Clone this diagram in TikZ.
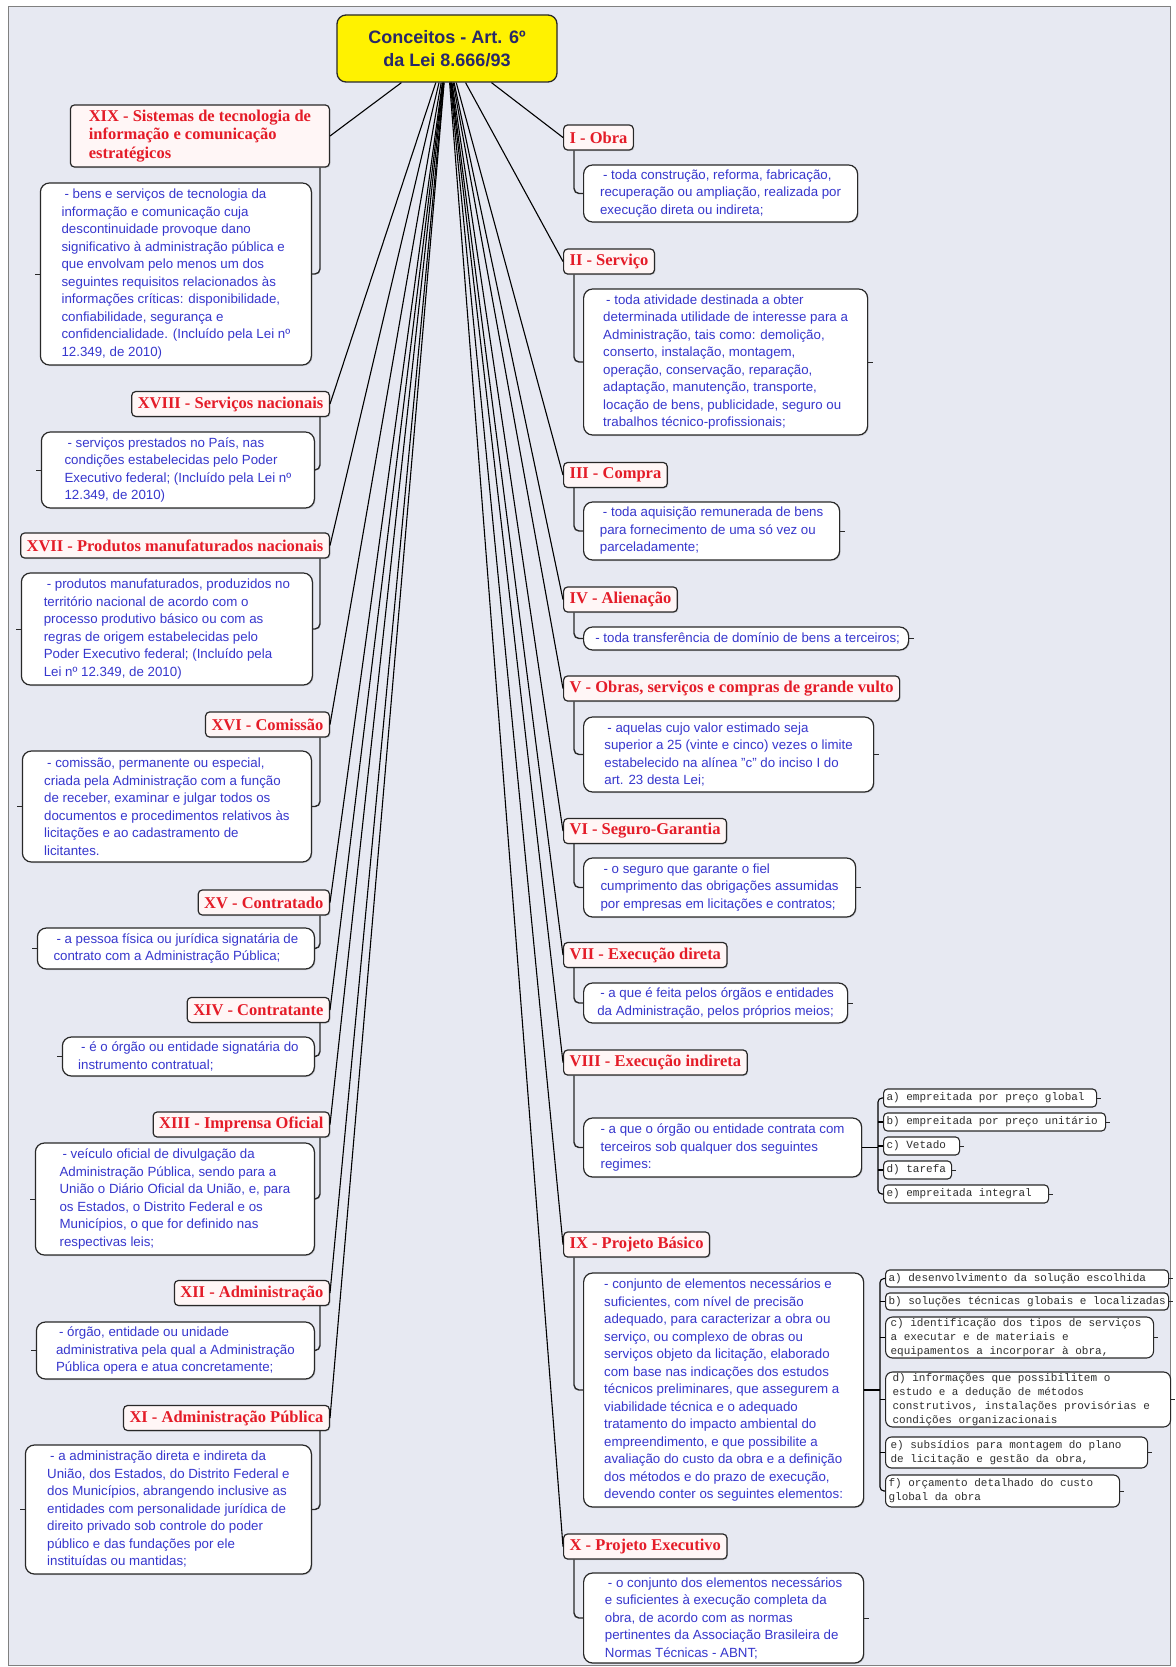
\documentclass[tikz,border=0pt]{standalone}
\usepackage{fontspec}
\setmainfont{Liberation Sans}
\newfontfamily\ttlfont{Liberation Serif}
\newfontfamily\subfnt{Liberation Mono}
\usetikzlibrary{calc,shadows}
\newcommand\oneline[1]{\mbox{\spaceskip=0pt\xspaceskip=0pt\relax #1}}
\definecolor{bg}{RGB}{231,233,242}
\definecolor{bodyblue}{RGB}{55,55,205}
\definecolor{ttlred}{RGB}{228,28,40}
\definecolor{ttlfill}{RGB}{255,246,246}
\definecolor{rootnavy}{RGB}{40,40,105}
\definecolor{subgray}{RGB}{45,45,45}
\definecolor{edge}{RGB}{40,40,40}
\begin{document}
\begin{tikzpicture}[x=1pt,y=-1pt,
  rootbox/.style={draw=edge, line width=1.3pt, rounded corners=9pt, fill=yellow, font=\bfseries\fontsize{18}{23}\selectfont, text=rootnavy, align=center, minimum width=220pt, minimum height=67pt},
  ttl/.style={draw=edge, line width=1.2pt, rounded corners=4pt, fill=ttlfill, font=\ttlfont\bfseries\fontsize{16.5}{18.3}\selectfont, text=ttlred, align=left, inner xsep=6pt, inner ysep=3pt, minimum height=25pt, drop shadow={shadow xshift=1pt, shadow yshift=-1pt, opacity=.3}},
  bodybox/.style={draw=edge, line width=1.2pt, rounded corners=9pt, fill=white, font=\fontsize{13.3}{17.5}\selectfont, text=bodyblue, align=left, inner xsep=8pt, inner ysep=2pt, drop shadow={shadow xshift=1pt, shadow yshift=-1pt, opacity=.3}},
  subbox/.style={draw=edge, line width=1.1pt, rounded corners=4pt, fill=white, font=\subfnt\fontsize{11}{13.8}\selectfont, text=subgray, align=left, inner xsep=3pt, inner ysep=1pt},
  link/.style={line width=1.1pt, draw=black},
  hook/.style={line width=1.4pt, draw=edge, rounded corners=5pt},
  stub/.style={line width=1pt, draw=edge},
]
\useasboundingbox (0,0) rectangle (1175,1667);
\fill[white] (0,0) rectangle (1175,1667);
\fill[bg] (8,7) rectangle (1170,1665);
\draw[gray, line width=1pt] (8,7) rectangle (1170,1665);

% root
\node[rootbox] (root) at (447,48.5) {Conceitos - Art. 6º\\da Lei 8.666/93};

% left titles
\node[ttl, anchor=east, minimum height=62pt, minimum width=259pt] (t19) at (330,136) {XIX - Sistemas de tecnologia de\\informação e comunicação\\estratégicos};
\node[ttl, anchor=east] (t18) at (330,404) {XVIII - Serviços nacionais};
\node[ttl, anchor=east] (t17) at (330,545.5) {XVII - Produtos manufaturados nacionais};
\node[ttl, anchor=east] (t16) at (330,724.5) {XVI - Comissão};
\node[ttl, anchor=east] (t15) at (330,902.5) {XV - Contratado};
\node[ttl, anchor=east] (t14) at (330,1010) {XIV - Contratante};
\node[ttl, anchor=east] (t13) at (330,1124.5) {XIII - Imprensa Oficial};
\node[ttl, anchor=east] (t12) at (330,1293) {XII - Administração};
\node[ttl, anchor=east] (t11) at (330,1418) {XI - Administração Pública};

% left bodies
\node[bodybox, anchor=east, minimum width=271pt, minimum height=182pt] (b19) at (312,274) {\hspace{3pt}- bens e serviços de tecnologia da\\informação e comunicação cuja\\descontinuidade provoque dano\\significativo à administração pública e\\que envolvam pelo menos um dos\\seguintes requisitos relacionados às\\informações críticas: disponibilidade,\\confiabilidade, segurança e\\confidencialidade. (Incluído pela Lei nº\\12.349, de 2010)};
\node[bodybox, anchor=east, minimum width=273pt, minimum height=76pt] (b18) at (315,470) {\hspace{3pt}- serviços prestados no País, nas\\condições estabelecidas pelo Poder\\Executivo federal; (Incluído pela Lei nº\\12.349, de 2010)};
\node[bodybox, anchor=east, minimum width=291pt, minimum height=112pt] (b17) at (313,629) {\hspace{3pt}- produtos manufaturados, produzidos no\\território nacional de acordo com o\\processo produtivo básico ou com as\\regras de origem estabelecidas pelo\\Poder Executivo federal; (Incluído pela\\Lei nº 12.349, de 2010)};
\node[bodybox, anchor=east, minimum width=289pt, minimum height=111pt] (b16) at (312,806.5) {\hspace{3pt}- comissão, permanente ou especial,\\criada pela Administração com a função\\de receber, examinar e julgar todos os\\documentos e procedimentos relativos às\\licitações e ao cadastramento de\\licitantes.};
\node[bodybox, anchor=east, minimum width=277pt, minimum height=41pt] (b15) at (315,948.5) {\hspace{3pt}- a pessoa física ou jurídica signatária de\\contrato com a Administração Pública;};
\node[bodybox, anchor=east, minimum width=252pt, minimum height=39pt] (b14) at (315,1056.5) {\hspace{3pt}- é o órgão ou entidade signatária do\\instrumento contratual;};
\node[bodybox, anchor=east, minimum width=279pt, minimum height=112pt] (b13) at (315,1199) {\hspace{3pt}- veículo oficial de divulgação da\\Administração Pública, sendo para a\\União o Diário Oficial da União, e, para\\os Estados, o Distrito Federal e os\\Municípios, o que for definido nas\\respectivas leis;};
\node[bodybox, anchor=east, minimum width=278pt, minimum height=57pt] (b12) at (315,1350.5) {\hspace{3pt}- órgão, entidade ou unidade\\administrativa pela qual a Administração\\Pública opera e atua concretamente;};
\node[bodybox, anchor=east, minimum width=286pt, minimum height=129pt] (b11) at (312,1509.5) {\hspace{3pt}- a administração direta e indireta da\\União, dos Estados, do Distrito Federal e\\dos Municípios, abrangendo inclusive as\\entidades com personalidade jurídica de\\direito privado sob controle do poder\\público e das fundações por ele\\instituídas ou mantidas;};

% right titles
\node[ttl, anchor=west] (t1) at (563,137.5) {I - Obra};
\node[ttl, anchor=west] (t2) at (563,261.5) {II - Serviço};
\node[ttl, anchor=west] (t3) at (563,475) {III - Compra};
\node[ttl, anchor=west] (t4) at (563,599.5) {IV - Alienação};
\node[ttl, anchor=west] (t5) at (563,688.5) {V - Obras, serviços e compras de grande vulto};
\node[ttl, anchor=west] (t6) at (563,831) {VI - Seguro-Garantia};
\node[ttl, anchor=west] (t7) at (563,955) {VII - Execução direta};
\node[ttl, anchor=west] (t8) at (563,1062.5) {VIII - Execução indireta};
\node[ttl, anchor=west] (t9) at (563,1244.5) {IX - Projeto Básico};
\node[ttl, anchor=west] (t10) at (563,1546.5) {X - Projeto Executivo};

% right bodies
\node[bodybox, anchor=west, minimum width=274pt, minimum height=57pt] (b1) at (583,193.5) {\hspace{3pt}- toda construção, reforma, fabricação,\\recuperação ou ampliação, realizada por\\execução direta ou indireta;};
\node[bodybox, anchor=west, minimum width=284pt, minimum height=146pt] (b2) at (583,362) {\hspace{3pt}- toda atividade destinada a obter\\determinada utilidade de interesse para a\\Administração, tais como: demolição,\\conserto, instalação, montagem,\\operação, conservação, reparação,\\adaptação, manutenção, transporte,\\locação de bens, publicidade, seguro ou\\trabalhos técnico-profissionais;};
\node[bodybox, anchor=west, minimum width=256pt, minimum height=58pt] (b3) at (583,531) {\hspace{3pt}- toda aquisição remunerada de bens\\para fornecimento de uma só vez ou\\parceladamente;};
\node[bodybox, anchor=west, minimum width=325pt, minimum height=23pt] (b4) at (583,638.5) {\hspace{3pt}- toda transferência de domínio de bens a terceiros;};
\node[bodybox, anchor=west, minimum width=290pt, minimum height=75pt] (b5) at (583,754.5) {\hspace{3pt}- aquelas cujo valor estimado seja\\superior a 25 (vinte e cinco) vezes o limite\\estabelecido na alínea "c" do inciso I do\\art. 23 desta Lei;};
\node[bodybox, anchor=west, minimum width=272pt, minimum height=59pt] (b6) at (583,887.5) {\hspace{3pt}- o seguro que garante o fiel\\cumprimento das obrigações assumidas\\por empresas em licitações e contratos;};
\node[bodybox, anchor=west, minimum width=264pt, minimum height=40pt] (b7) at (583,1003) {\hspace{3pt}- a que é feita pelos órgãos e entidades\\da Administração, pelos próprios meios;};
\node[bodybox, anchor=west, minimum width=278pt, minimum height=59pt] (b8) at (583,1147.5) {- a que o órgão ou entidade contrata com\\terceiros sob qualquer dos seguintes\\regimes:};
\node[bodybox, anchor=west, minimum width=280pt, minimum height=234pt] (b9) at (583,1390) {- conjunto de elementos necessários e\\suficientes, com nível de precisão\\adequado, para caracterizar a obra ou\\serviço, ou complexo de obras ou\\serviços objeto da licitação, elaborado\\com base nas indicações dos estudos\\técnicos preliminares, que assegurem a\\viabilidade técnica e o adequado\\tratamento do impacto ambiental do\\empreendimento, e que possibilite a\\avaliação do custo da obra e a definição\\dos métodos e do prazo de execução,\\devendo conter os seguintes elementos:};
\node[bodybox, anchor=west, minimum width=280pt, minimum height=90pt] (b10) at (583,1618) {\hspace{3pt}- o conjunto dos elementos necessários\\e suficientes à execução completa da\\obra, de acordo com as normas\\pertinentes da Associação Brasileira de\\Normas Técnicas - ABNT;};

% sub items VIII
\node[subbox, anchor=west, text width=207pt, minimum height=18pt] (s8a) at (883,1098) {\oneline{a) empreitada por preço global}};
\node[subbox, anchor=west, text width=216pt, minimum height=18pt] (s8b) at (883,1122) {\oneline{b) empreitada por preço unitário}};
\node[subbox, anchor=west, text width=70pt, minimum height=18pt] (s8c) at (883,1146) {\oneline{c) Vetado}};
\node[subbox, anchor=west, text width=62pt, minimum height=18pt] (s8d) at (883,1170) {\oneline{d) tarefa}};
\node[subbox, anchor=west, text width=159pt, minimum height=18pt] (s8e) at (883,1194) {\oneline{e) empreitada integral}};

% sub items IX
\node[subbox, anchor=west, text width=277pt, minimum height=17pt] (s9a) at (885,1278.5) {\oneline{a) desenvolvimento da solução escolhida}};
\node[subbox, anchor=west, text width=277pt, minimum height=17pt] (s9b) at (885,1301.5) {\oneline{b) soluções técnicas globais e localizadas}};
\node[subbox, anchor=west, text width=262pt, minimum height=41pt, rounded corners=7pt] (s9c) at (885,1337.5) {\oneline{\hspace{2pt}c) identificação dos tipos de serviços}\\\oneline{\hspace{2pt}a executar e de materiais e}\\\oneline{\hspace{2pt}equipamentos a incorporar à obra,}};
\node[subbox, anchor=west, text width=279pt, minimum height=55pt, rounded corners=7pt] (s9d) at (885,1399.5) {\oneline{\hspace{4pt}d) informações que possibilitem o}\\\oneline{\hspace{4pt}estudo e a dedução de métodos}\\\oneline{\hspace{4pt}construtivos, instalações provisórias e}\\\oneline{\hspace{4pt}condições organizacionais}};
\node[subbox, anchor=west, text width=256pt, minimum height=31pt, rounded corners=6pt] (s9e) at (885,1452.5) {\oneline{\hspace{2pt}e) subsídios para montagem do plano}\\\oneline{\hspace{2pt}de licitação e gestão da obra,}};
\node[subbox, anchor=west, text width=228pt, minimum height=32pt, rounded corners=6pt] (s9f) at (885,1491) {\oneline{f) orçamento detalhado do custo}\\\oneline{global da obra}};

% root links
\foreach \t in {t19,t18,t17,t16,t15,t14,t13,t12,t11}
  \draw[link] (root) -- (\t.east);
\foreach \t in {t1,t2,t3,t4,t5,t6,t7,t8,t9,t10}
  \draw[link] (root) -- (\t.west);

% title to body hooks, left
\foreach \n in {19,18,17,16,15,14,13,12,11}
  \draw[hook] ($(t\n.south east)+(-10,0)$) |- (b\n.east);
% right
\foreach \n in {1,2,3,4,5,6,7,8,9,10}
  \draw[hook] ($(t\n.south west)+(11,0)$) |- (b\n.west);

% stubs
\foreach \n in {19,18,17,16,15,14,13,12,11}
  \draw[stub] (b\n.west) -- ++(-5,0);
\foreach \n in {2,3,4,5,6,7,10}
  \draw[stub] (b\n.east) -- ++(5,0);
\foreach \s in {s8a,s8b,s8c,s8d,s8e,s9a,s9b,s9c,s9d,s9e,s9f}
  \draw[stub] (\s.east) -- ++(4,0);

% brackets
\coordinate (tr8) at (878,1147.5);
\draw[link] (b8.east) -- (b8.east -| tr8);
\draw[link, rounded corners=4pt] (s8a.west) -| (tr8) |- (s8e.west);
\foreach \s in {s8b,s8c,s8d}
  \draw[link] (\s.west -| tr8) -- (\s.west);

\coordinate (tr9) at (880,1390);
\draw[link] (b9.east) -- (b9.east -| tr9);
\draw[link, rounded corners=4pt] (s9a.west) -| (tr9) |- (s9f.west);
\foreach \s in {s9b,s9c,s9d,s9e}
  \draw[link] (\s.west -| tr9) -- (\s.west);
\end{tikzpicture}
\end{document}
